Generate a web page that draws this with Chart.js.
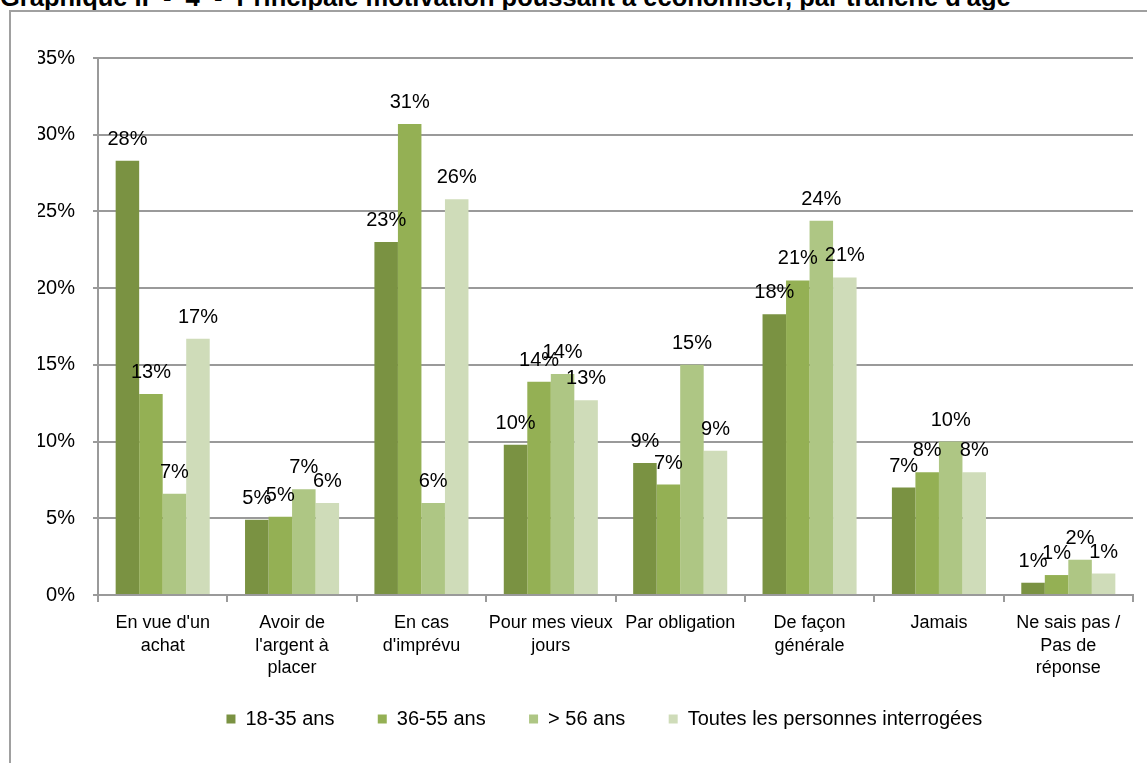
<!DOCTYPE html>
<html>
<head>
<meta charset="utf-8">
<script src="https://cdn.jsdelivr.net/npm/chart.js@4.4.0/dist/chart.umd.min.js"></script>
<style>
  html, body { margin: 0; padding: 0; background: #fff; overflow: hidden; }
  #titre {
    position: absolute; left: 0; top: -17px; white-space: pre;
    font: bold 25.5px "Liberation Sans", Arial, sans-serif; color: #000;
  }
  #cadre {
    position: absolute; left: 9px; top: 10px; width: 1160px; height: 780px;
    border-left: 2px solid #a0a0a0; border-top: 2px solid #a0a0a0;
  }
  #wrap { position: absolute; left: 0; top: 0; width: 1147px; height: 763px; }
</style>
</head>
<body>
<div id="titre">Graphique II  -  4  -  Principale motivation poussant à économiser, par tranche d'âge</div>
<div id="cadre"></div>
<div id="wrap"><canvas id="MotivationChart"></canvas></div>

<script>
// categories (multi-line labels)
var categories = [
  ["En vue d'un", "achat"],
  ["Avoir de", "l'argent à", "placer"],
  ["En cas", "d'imprévu"],
  ["Pour mes vieux", "jours"],
  ["Par obligation"],
  ["De façon", "générale"],
  ["Jamais"],
  ["Ne sais pas /", "Pas de", "réponse"]
];

var seriesNames = ["18-35 ans", "36-55 ans", "> 56 ans", "Toutes les personnes interrogées"];

// values in %
var age18_35 = [28.3, 4.9, 23.0, 9.8, 8.6, 18.3, 7.0, 0.8];
var age36_55 = [13.1, 5.1, 30.7, 13.9, 7.2, 20.5, 8.0, 1.3];
var age56plus = [6.6, 6.9, 6.0, 14.4, 15.0, 24.4, 10.0, 2.3];
var toutes = [16.7, 6.0, 25.8, 12.7, 9.4, 20.7, 8.0, 1.4];

var yTicks = [0, 5, 10, 15, 20, 25, 30, 35];

var colors = ["#7a9242", "#94b054", "#aec684", "#cfdcb9"];
var police = '"Liberation Sans", Arial, sans-serif';

// draw the rounded value above each bar
var etiquettes = {
  id: "etiquettes",
  afterDatasetsDraw: function (chart) {
    var ctx = chart.ctx;
    ctx.save();
    ctx.font = "20px " + police;
    ctx.fillStyle = "#000";
    ctx.textAlign = "center";
    ctx.textBaseline = "alphabetic";
    chart.data.datasets.forEach(function (ds, i) {
      chart.getDatasetMeta(i).data.forEach(function (bar, j) {
        ctx.fillText(Math.round(ds.data[j]) + "%", bar.x, bar.y - 16);
      });
    });
    ctx.restore();
  }
};

var ctx = document.getElementById("MotivationChart").getContext("2d");
var chart = new Chart(ctx, {
  type: "bar",
  data: {
    labels: categories,
    datasets: [
      { label: seriesNames[0], data: age18_35, backgroundColor: colors[0] },
      { label: seriesNames[1], data: age36_55, backgroundColor: colors[1] },
      { label: seriesNames[2], data: age56plus, backgroundColor: colors[2] },
      { label: seriesNames[3], data: toutes, backgroundColor: colors[3] }
    ]
  },
  options: {
    responsive: true,
    maintainAspectRatio: false,
    animation: false,
    layout: {
      padding: { left: 38, right: 14, top: 58, bottom: 24 }
    },
    datasets: {
      bar: { categoryPercentage: 0.727, barPercentage: 1.0, borderWidth: 0 }
    },
    plugins: {
      tooltip: { enabled: false },
      legend: {
        position: "bottom",
        fullSize: false,
        labels: {
          boxWidth: 9,
          boxHeight: 9,
          padding: 10,
          color: "#000",
          font: { family: police, size: 20 },
          // wider gaps between the items, like the original
          generateLabels: function (chart) {
            var items = Chart.defaults.plugins.legend.labels.generateLabels(chart);
            items.forEach(function (it, i) {
              it.text = it.text + (i < items.length - 1 ? "      " : "    ");
            });
            return items;
          }
        }
      }
    },
    scales: {
      x: {
        offset: true,
        afterFit: function (scale) { scale.height = 104; },
        grid: {
          offset: true,
          drawOnChartArea: false,
          tickLength: 7,
          color: "#9a9a9a",
          lineWidth: 2
        },
        border: { color: "#9a9a9a", width: 2 },
        ticks: {
          autoSkip: false,
          maxRotation: 0,
          padding: 10,
          color: "#000",
          font: { family: police, size: 18, lineHeight: 1.25 }
        }
      },
      y: {
        min: 0,
        max: 35,
        afterFit: function (scale) { scale.width = 60; },
        afterBuildTicks: function (scale) {
          scale.ticks = yTicks.map(function (v) { return { value: v }; });
        },
        grid: { color: "#9a9a9a", lineWidth: 2, tickLength: 5 },
        border: { color: "#9a9a9a", width: 2 },
        ticks: {
          padding: 18,
          color: "#000",
          font: { family: police, size: 20 },
          callback: function (v) { return v + "%"; }
        }
      }
    }
  },
  plugins: [etiquettes]
});
</script>
</body>
</html>
